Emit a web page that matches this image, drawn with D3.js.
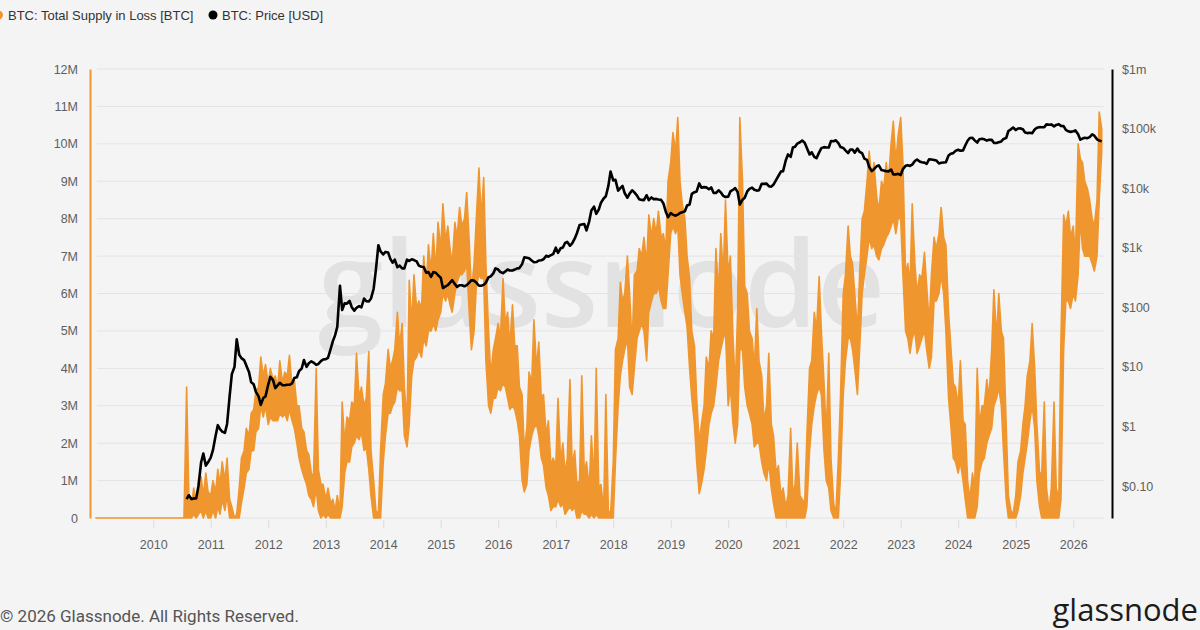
<!DOCTYPE html>
<html>
<head>
<meta charset="utf-8">
<script src="https://cdn.jsdelivr.net/npm/d3@7"></script>
<style>
  html, body { margin: 0; padding: 0; background: #f4f4f4; }
  svg { display: block; }
</style>
</head>
<body>
<svg id="chart" width="1200" height="630"></svg>
<script>
// BTC total supply in loss, millions of BTC: daily high / low inside each half month, from 1 Jan 2009
var lossHigh = [
  0,0,0,0,0,0,0,0,0,0,0,0,0,0,0,0,0,0,0,0,0,0,0,0,                                   // 2009
  0,0,0,0,0,0,0,0,0,0,0,0,0,0,3.5,0.6,0.3,0.8,0.4,0.7,1.1,0.6,1.2,0.7,               // 2010
  0.6,1.0,0.7,1.3,0.9,1.5,1.0,1.6,0.5,0.3,0,0.1,0.8,1.6,1.8,2.4,2.2,2.8,2.9,3.4,3.5,4.3,3.8,4.1,
  3.6,4.0,3.7,3.8,3.5,4.2,3.6,3.9,3.8,4.35,3.5,3.7,3.0,3.0,2.4,2.3,1.8,1.7,1.2,1.1,4.0,1.3,0.9,0.9,
  0.5,0.8,0.4,0.5,0.2,0.6,0.2,3.1,2.0,2.7,2.6,3.1,3.0,4.4,3.2,3.5,3.0,3.2,4.45,1.8,1.0,0.2,0.1,1.8,
  3.3,3.6,4.5,4.0,4.2,4.5,5.5,4.6,5.2,3.5,2.6,6.35,5.2,6.5,5.6,5.8,5.6,7.0,6.2,7.3,6.6,7.6,6.6,7.9,
  7.2,8.4,7.4,7.8,7.2,6.8,7.9,7.5,8.3,7.8,8.0,8.7,7.4,6.0,6.8,8.0,9.35,8.0,9.1,6.8,5.0,3.8,4.5,4.8,
  5.2,4.8,6.4,5.2,5.5,4.6,5.7,4.6,4.6,3.5,3.3,1.8,2.4,3.9,3.6,5.3,4.0,4.7,3.2,3.3,2.2,2.6,1.4,1.6,
  1.4,3.2,1.5,2.0,1.2,1.6,3.7,1.4,1.8,0.9,1.0,3.8,1.2,1.5,0.8,2.2,1.0,4.0,0.8,0.9,0.2,3.3,0.2,0.1,
  1.5,4.5,4.8,6.3,5.8,6.0,7.0,6.0,4.6,6.5,6.6,7.2,7.0,7.5,6.8,8.1,7.5,8.0,7.6,8.2,7.5,7.6,7.2,9.0,
  9.5,10.3,9.8,10.7,9.0,8.4,8.0,7.0,6.4,5.0,4.6,3.2,2.0,2.5,3.0,4.3,4.0,5.0,4.8,7.2,6.0,7.6,6.5,8.5,
  6.5,7.0,4.8,3.5,5.5,10.7,9.0,6.2,6.0,5.0,4.8,4.0,5.6,4.2,3.8,2.6,3.0,4.4,2.5,2.2,1.2,1.4,0.6,0.8,
  0.3,0.6,2.4,0.6,0.9,2.0,0.6,0.5,0.4,2.2,4.0,4.2,5.5,5.0,6.45,5.0,3.6,2.2,4.4,1.6,0.4,0.1,1.6,3.3,
  6.0,6.5,7.8,7.0,6.8,6.0,5.0,6.5,8.0,8.2,9.0,9.8,9.0,9.5,8.6,8.2,9.0,8.8,9.5,9.0,10.0,10.6,9.5,10.2,
  10.7,9.5,6.5,6.8,6.2,8.4,6.8,6.0,6.5,6.4,7.1,6.2,5.2,6.5,7.5,7.2,7.6,8.3,7.5,7.3,5.5,4.6,3.6,3.5,
  3.0,4.2,2.6,2.5,1.0,0.5,1.2,0.8,4.0,2.5,3.0,3.0,3.7,3.2,4.5,6.1,4.8,6.0,5.0,4.8,2.5,0.6,0.2,0.1,
  0.6,1.5,1.8,2.5,3.0,3.8,4.2,5.2,4.0,2.5,1.2,1.2,3.1,0.8,0.2,0.8,3.1,0.8,0.5,4.8,8.1,7.8,8.2,7.5,
  7.8,7.0,10.0,9.6,9.5,9.0,8.8,8.5,8.0,7.8,8.5,10.85,10.4                            // 2026
];
var lossLow = [
  0,0,0,0,0,0,0,0,0,0,0,0,0,0,0,0,0,0,0,0,0,0,0,0,                                   // 2009
  0,0,0,0,0,0,0,0,0,0,0,0,0,0,0,0,0,0.1,0,0.1,0.2,0,0.2,0,                            // 2010
  0,0.2,0,0.3,0.1,0.5,0.2,0.6,0,0,0,0,0,0.4,0.8,1.2,1.3,1.8,1.8,2.3,2.4,3.0,2.7,3.0,
  2.5,2.7,2.6,2.6,2.6,2.8,2.7,2.8,2.6,2.9,2.6,2.4,2.0,1.6,1.3,1.1,0.9,0.6,0.5,0.3,0.8,0.2,0,0.1,
  0,0.1,0,0,0,0,0,0.3,1.2,1.5,1.5,1.9,2.0,2.2,2.1,2.3,1.8,1.9,1.3,0.6,0,0,0,0,
  1.5,2.2,2.8,2.8,3.0,3.1,3.5,3.4,3.4,2.2,1.9,2.5,3.8,4.2,4.3,4.5,4.3,4.8,4.6,5.0,5.0,5.2,5.0,5.3,
  5.5,6.0,5.8,6.0,5.7,5.5,6.0,6.3,6.5,6.5,6.6,6.8,5.5,4.5,5.0,6.2,6.5,6.4,6.4,4.2,3.0,2.8,3.2,3.2,
  3.5,3.4,3.6,3.5,3.2,2.9,3.0,2.9,2.6,2.2,1.0,0.7,0.9,1.8,2.2,2.4,2.5,2.2,1.6,1.4,0.8,0.6,0.2,0.3,
  0.3,0.5,0.3,0.4,0.1,0.2,0.3,0.2,0.3,0,0,0.2,0.1,0.1,0,0.1,0,0.1,0,0,0,0,0,0,
  0,1.5,3.0,3.8,4.2,4.5,4.8,3.5,3.3,4.0,4.8,5.0,5.2,5.0,4.2,5.5,5.8,6.0,6.0,6.2,5.8,5.6,5.6,6.5,
  7.6,7.8,7.6,7.8,6.5,6.0,5.5,5.1,4.0,3.2,2.5,1.5,0.65,0.9,1.3,1.8,2.5,2.8,3.0,3.5,4.2,4.5,4.8,5.0,
  3.0,3.5,2.5,2.0,2.5,4.5,4.5,3.5,3.0,2.8,2.5,1.9,2.0,2.0,1.5,1.2,1.0,1.5,0.8,0.4,0,0,0,0,
  0,0,0,0,0,0,0,0,0,0.3,1.8,2.5,3.0,3.3,3.5,3.3,1.8,1.0,0.8,0.2,0,0,0,1.2,
  3.3,4.2,4.8,4.8,4.5,4.0,3.3,4.5,6.0,6.5,7.0,7.5,7.2,7.3,7.0,6.9,7.2,7.3,7.5,7.6,7.8,8.0,7.6,8.0,
  8.0,6.5,5.0,4.8,4.4,4.8,5.0,4.4,4.6,4.8,5.0,4.5,4.0,4.3,5.8,5.8,6.0,6.5,6.0,5.0,3.2,2.5,1.6,1.5,
  1.2,1.5,1.0,0.5,0,0,0,0,0.3,1.2,1.5,1.6,2.0,2.2,2.4,3.0,3.2,3.5,3.0,1.8,0.5,0,0,0,
  0,0.2,0.6,1.2,1.6,2.0,2.6,3.0,2.4,1.0,0.3,0,0,0,0,0,0,0,0,0.5,4.5,5.8,5.8,5.6,
  6.0,5.8,6.5,8.0,7.2,7.0,7.0,7.0,6.8,6.6,7.0,8.5,9.8                                // 2026
];

// BTC price in USD, a value every half month from 1 Aug 2010
var priceUsd = [
  0.06,0.07,0.06,0.062,0.062,0.10,0.25,0.35,0.22,0.25,                               // 2010
  0.30,0.40,0.70,1.05,0.90,0.82,0.78,1.1,3.2,7.5,10,29,16,14,13,10.5,8.2,5.5,5.1,3.8,3.2,2.3,3.0,3.2,
  5.0,6.8,6.0,4.4,4.9,5.4,4.9,4.9,5.0,5.0,5.3,6.5,6.7,8.5,9.4,13,10,11.5,12.4,11.8,10.8,11.2,12.5,13.3,
  13.5,14.2,20,27,34,47,230,90,117,115,128,100,88,98,105,100,140,127,125,140,205,420,1100,870,
  770,850,830,650,560,630,470,500,450,450,630,600,640,620,590,500,480,475,380,390,325,390,380,345,
  315,210,225,235,260,285,245,220,235,235,225,235,260,285,280,260,230,230,238,260,320,330,370,450,
  430,390,375,400,430,415,415,430,450,455,530,690,680,665,610,570,575,610,615,640,730,710,750,780,
  1000,820,980,1010,1200,1250,1080,1180,1420,1750,2400,2450,2500,1950,2750,4200,4900,3700,4350,5700,6700,7300,10900,19000,
  13500,13800,9100,10000,10900,8200,6900,8100,9200,8500,7500,6500,6350,6300,7600,6300,7000,6500,6600,6450,6350,5600,4000,3250,
  3800,3600,3450,3600,3820,3950,4100,5100,5300,8000,8550,8800,12000,10200,10400,10300,9600,10300,8300,8300,9200,8500,7400,7100,
  7200,8800,9400,10000,8600,5300,6400,6900,8800,9700,10200,9400,9100,9200,11800,11800,11900,10800,10600,11500,13800,16000,19000,19300,
  29400,36800,33500,48000,49600,56000,59000,63000,57800,47000,36700,40000,33500,31800,39800,47000,48800,48000,48100,61500,61300,63500,57000,48900,
  47300,43100,38700,44500,44400,39300,46300,40500,38500,31300,29800,22600,19300,20800,23300,24100,20100,19700,19300,19100,20500,16900,17000,17400,
  16600,20900,23700,24300,23600,24800,28500,30300,28100,27200,26800,25600,30600,30300,29700,29200,25900,26600,27000,27200,35400,37900,38700,42200,
  44200,42500,43100,52000,62400,69500,69700,63400,58300,66200,67500,66000,62700,64700,64600,57600,57300,59200,60800,67000,69500,91000,97000,104000,
  94400,100500,100600,97600,86000,84000,85000,83600,96500,103500,105600,105500,105700,117700,115700,117400,109000,115300,118600,111000,110000,95000,90000,88000,
  90000,93000,80000,65000,68000,70000,69000,72000,80000,76000,66000,63000,61000       // 2026
];

var lossStart = [2009, 0];    // year, month of first value
var priceStart = [2010, 7];
var yearTicks = [2010,2011,2012,2013,2014,2015,2016,2017,2018,2019,2020,2021,2022,2023,2024,2025,2026];
var lossTicks = [0,1,2,3,4,5,6,7,8,9,10,11,12];
var priceTicks = [0.1,1,10,100,1e3,1e4,1e5,1e6];
var priceTickLabels = ["$0.10","$1","$10","$100","$1k","$10k","$100k","$1m"];

var ORANGE = "#f0962f";
var GREY = "#5f5f5f";
var FONT = "Liberation Sans, Arial, sans-serif";

function halfMonth(start, i) {
  return new Date(Date.UTC(start[0], start[1] + Math.floor(i / 2), i % 2 ? 15 : 1));
}

var svg = d3.select("#chart");

var x = d3.scaleUtc()
  .domain([Date.UTC(2009,0,1), Date.UTC(2027,0,1)])
  .range([95.8, 1130.7]);
var yL = d3.scaleLinear().domain([0, 12]).range([518, 69]);
var yR = d3.scaleLog().domain([Math.pow(10, -1.537), 1e6]).range([518, 69]);

// watermark
svg.append("text")
  .attr("x", 318).attr("y", 327)
  .attr("textLength", 567).attr("lengthAdjust", "spacingAndGlyphs")
  .attr("font-family", "Open Sans").attr("font-weight", 600).attr("font-size", 120)
  .attr("fill", "#e2e2e2")
  .text("glassnode");

// grid
svg.append("g").selectAll("line")
  .data(lossTicks).enter()
  .append("line")
    .attr("x1", 97).attr("x2", 1104)
    .attr("y1", function(d) { return yL(d); })
    .attr("y2", function(d) { return yL(d); })
    .attr("stroke", "#e3e3e3").attr("stroke-width", 1);

// x axis
var gx = svg.append("g")
  .attr("transform", "translate(0,520)")
  .call(d3.axisBottom(x)
    .tickValues(yearTicks.map(function(y) { return new Date(Date.UTC(y,0,1)); }))
    .tickFormat(d3.utcFormat("%Y"))
    .tickSize(8).tickPadding(12));
gx.select(".domain").remove();
gx.selectAll(".tick line").attr("stroke", "#dcdcdc");
gx.selectAll(".tick text").attr("fill", GREY).attr("font-size", 12.5).attr("font-family", FONT);

// left axis (orange)
var gl = svg.append("g")
  .attr("transform", "translate(90,0)")
  .call(d3.axisLeft(yL)
    .tickValues(lossTicks)
    .tickFormat(function(d) { return d === 0 ? "0" : d + "M"; })
    .tickSize(0).tickSizeOuter(0).tickPadding(12));
gl.select(".domain").attr("stroke", ORANGE).attr("stroke-width", 2);
gl.selectAll(".tick text").attr("fill", GREY).attr("font-size", 12.5).attr("font-family", FONT);

// right axis (black, log)
var gr = svg.append("g")
  .attr("transform", "translate(1112,0)")
  .call(d3.axisRight(yR)
    .tickValues(priceTicks)
    .tickFormat(function(d, i) { return priceTickLabels[i]; })
    .tickSize(0).tickSizeOuter(0).tickPadding(10));
gr.select(".domain").attr("stroke", "#000").attr("stroke-width", 2);
gr.selectAll(".tick text").attr("fill", GREY).attr("font-size", 12.5).attr("font-family", FONT);

// supply in loss: the daily series is so dense it reads as a jagged band
var lossArea = d3.area()
  .x(function(d, i) { return x(halfMonth(lossStart, i)); })
  .y0(function(d, i) { return yL(lossLow[i]); })
  .y1(function(d) { return yL(d); });
svg.append("path")
  .datum(lossHigh)
  .attr("d", lossArea)
  .attr("fill", ORANGE).attr("stroke", ORANGE)
  .attr("stroke-width", 1.6).attr("stroke-linejoin", "round");

var priceLine = d3.line()
  .x(function(d, i) { return x(halfMonth(priceStart, i)); })
  .y(function(d) { return yR(d); });
svg.append("path")
  .datum(priceUsd)
  .attr("d", priceLine)
  .attr("fill", "none").attr("stroke", "#000")
  .attr("stroke-width", 2.6).attr("stroke-linejoin", "round");

// legend
var legend = svg.append("g").attr("font-family", FONT).attr("font-size", 13).attr("fill", "#333");
legend.append("circle").attr("cx", -1.5).attr("cy", 15).attr("r", 4.5).attr("fill", ORANGE);
legend.append("text").attr("x", 8).attr("y", 20).text("BTC: Total Supply in Loss [BTC]");
legend.append("circle").attr("cx", 213).attr("cy", 15).attr("r", 4.5).attr("fill", "#000");
legend.append("text").attr("x", 222).attr("y", 20).text("BTC: Price [USD]");

// footer
svg.append("text")
  .attr("x", 0).attr("y", 622)
  .attr("font-family", "Roboto").attr("font-size", 17).attr("fill", "#555")
  .text("\u00a9 2026 Glassnode. All Rights Reserved.");
svg.append("text")
  .attr("x", 1198).attr("y", 621).attr("text-anchor", "end")
  .attr("font-family", "Open Sans").attr("font-size", 31).attr("fill", "#1c1c1c")
  .text("glassnode");
</script>
</body>
</html>
